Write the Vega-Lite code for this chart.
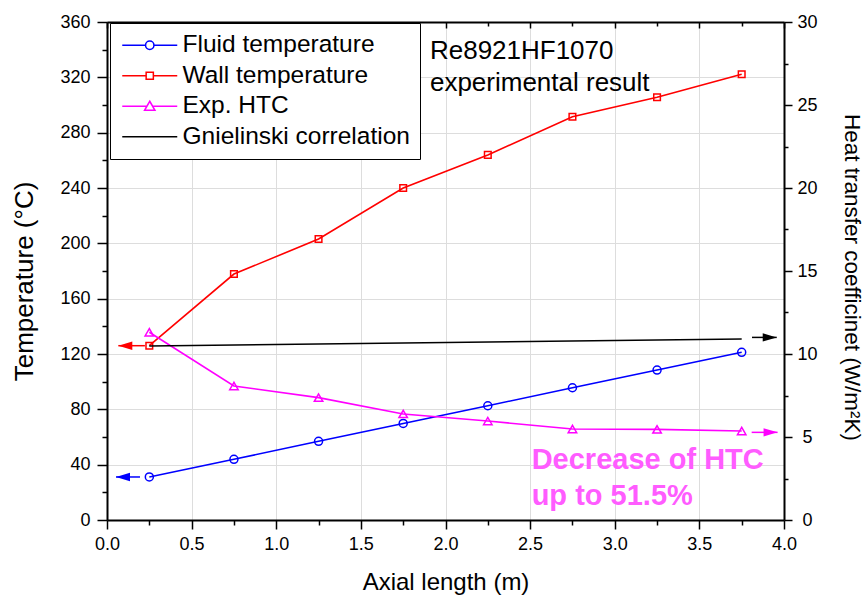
{
  "$schema": "https://vega.github.io/schema/vega-lite/v6.json",
  "width": 677,
  "height": 498,
  "autosize": {"type": "none"},
  "padding": {"left": 107, "top": 22, "right": 82, "bottom": 78},
  "background": "white",
  "config": {
    "view": {"stroke": null},
    "font": "Liberation Sans",
    "axis": {
      "labelFont": "Liberation Sans",
      "titleFont": "Liberation Sans",
      "labelColor": "#000000",
      "titleColor": "#000000",
      "titleFontWeight": "normal",
      "domainColor": "#000000",
      "domainWidth": 2,
      "tickColor": "#000000",
      "tickWidth": 1.5,
      "labelFontSize": 18,
      "titleFontSize": 24,
      "gridColor": "#dddddd",
      "gridWidth": 1,
      "labelFlush": false,
      "labelOverlap": false
    }
  },
  "datasets": {
    "series": [
      {"series": "Fluid temperature", "x": 0.25, "value": 31.1},
      {"series": "Fluid temperature", "x": 0.75, "value": 43.9},
      {"series": "Fluid temperature", "x": 1.25, "value": 56.9},
      {"series": "Fluid temperature", "x": 1.75, "value": 69.8},
      {"series": "Fluid temperature", "x": 2.25, "value": 82.6},
      {"series": "Fluid temperature", "x": 2.75, "value": 95.6},
      {"series": "Fluid temperature", "x": 3.25, "value": 108.4},
      {"series": "Fluid temperature", "x": 3.75, "value": 121.2},
      {"series": "Wall temperature", "x": 0.25, "value": 126},
      {"series": "Wall temperature", "x": 0.75, "value": 177.8},
      {"series": "Wall temperature", "x": 1.25, "value": 203.1},
      {"series": "Wall temperature", "x": 1.75, "value": 240},
      {"series": "Wall temperature", "x": 2.25, "value": 263.9},
      {"series": "Wall temperature", "x": 2.75, "value": 291.5},
      {"series": "Wall temperature", "x": 3.25, "value": 305.6},
      {"series": "Wall temperature", "x": 3.75, "value": 322.2},
      {"series": "Exp. HTC", "x": 0.25, "value": 11.31},
      {"series": "Exp. HTC", "x": 0.75, "value": 8.07},
      {"series": "Exp. HTC", "x": 1.25, "value": 7.37},
      {"series": "Exp. HTC", "x": 1.75, "value": 6.39},
      {"series": "Exp. HTC", "x": 2.25, "value": 5.96},
      {"series": "Exp. HTC", "x": 2.75, "value": 5.48},
      {"series": "Exp. HTC", "x": 3.25, "value": 5.46},
      {"series": "Exp. HTC", "x": 3.75, "value": 5.36},
      {"series": "Gnielinski correlation", "x": 0.25, "value": 10.48},
      {"series": "Gnielinski correlation", "x": 3.75, "value": 10.9}
    ],
    "arrows": [
      {"series": "Fluid temperature", "x": 0.053, "x2": 0.195, "value": 31.1},
      {"series": "Wall temperature", "x": 0.067, "x2": 0.224, "value": 126},
      {"series": "Exp. HTC", "x": 3.962, "x2": 3.809, "value": 5.28},
      {"series": "Gnielinski correlation", "x": 3.957, "x2": 3.811, "value": 11.0}
    ],
    "notes": [
      {"id": "case", "label": "Re8921HF1070\nexperimental result", "x": 1.908, "value": 333},
      {"id": "decrease", "label": "Decrease of HTC\nup to 51.5%", "x": 2.509, "value": 37.2}
    ]
  },
  "layer": [
    {
      "data": {"name": "series"},
      "encoding": {
        "x": {
          "field": "x", "type": "quantitative",
          "scale": {"domain": [0, 4], "nice": false, "zero": false},
          "axis": {
            "orient": "bottom",
            "title": "Axial length (m)",
            "values": [0, 0.25, 0.5, 0.75, 1, 1.25, 1.5, 1.75, 2, 2.25, 2.5, 2.75, 3, 3.25, 3.5, 3.75, 4],
            "labelExpr": "datum.value % 0.5 === 0 ? format(datum.value, '.1f') : ''",
            "tickSize": {"condition": {"test": "datum.value % 0.5 !== 0", "value": 5}, "value": 9},
            "grid": true,
            "gridOpacity": {"condition": {"test": "datum.value % 0.5 !== 0", "value": 0}, "value": 1},
            "labelPadding": 6,
            "titlePadding": 17
          }
        },
        "y": {
          "field": "value", "type": "quantitative",
          "scale": {"domain": [0, 360], "nice": false},
          "axis": {
            "orient": "left",
            "title": "Temperature (°C)",
            "titleFontSize": 26,
            "titleY": 259,
            "values": [0, 20, 40, 60, 80, 100, 120, 140, 160, 180, 200, 220, 240, 260, 280, 300, 320, 340, 360],
            "labelExpr": "datum.value % 40 === 0 ? datum.label : ''",
            "tickSize": {"condition": {"test": "datum.value % 40 !== 0", "value": 5}, "value": 10},
            "grid": true,
            "gridOpacity": {"condition": {"test": "datum.value % 40 !== 0", "value": 0}, "value": 1},
            "labelPadding": 7,
            "titlePadding": 22
          }
        },
        "color": {
          "field": "series", "type": "nominal",
          "scale": {
            "domain": ["Fluid temperature", "Wall temperature", "Exp. HTC", "Gnielinski correlation"],
            "range": ["#0000ff", "#ff0000", "#ff00ff", "#000000"]
          },
          "legend": {
            "title": null,
            "orient": "none",
            "legendX": 3,
            "legendY": 1,
            "direction": "vertical",
            "padding": 10,
            "strokeColor": "#000000",
            "fillColor": "#ffffff",
            "labelFont": "Liberation Sans",
            "labelFontSize": 24.5,
            "labelColor": "#000000",
            "labelLimit": 400,
            "symbolSize": 400,
            "symbolStrokeWidth": 1.5,
            "symbolFillColor": "#ffffff",
            "symbolOffset": 17.5,
            "labelOffset": 20.5,
            "rowPadding": 5.5,
            "encode": {
              "symbols": {
                "enter": {
                  "fill": {"value": "#ffffff"},
                  "fillOpacity": {"value": 0}
                },
                "update": {
                  "shape": {"signal": "datum.value === 'Fluid temperature' ? 'M-2.75,0H-0.42M0.42,0H2.75M0.42,0A0.42,0.42,0,1,1,-0.42,0A0.42,0.42,0,1,1,0.42,0Z' : datum.value === 'Wall temperature' ? 'M-2.75,0H-0.36M0.36,0H2.75M-0.36,-0.36H0.36V0.36H-0.36Z' : datum.value === 'Exp. HTC' ? 'M-2.75,0H-0.3M0.3,0H2.75M0,-0.5L0.52,0.4H-0.52Z' : 'M-2.75,0H2.75'"},
                  "fill": {"value": "#ffffff"},
                  "fillOpacity": {"value": 0},
                  "stroke": {"signal": "scale('color', datum.value)"},
                  "strokeWidth": {"value": 1.5},
                  "opacity": {"value": 1}
                }
              }
            }
          }
        }
      },
      "layer": [
        {
          "transform": [{"filter": "datum.series === 'Fluid temperature' || datum.series === 'Wall temperature'"}],
          "mark": {"type": "line", "strokeWidth": 1.6}
        },
        {
          "transform": [{"filter": "datum.series === 'Fluid temperature'"}],
          "mark": {"type": "point", "shape": "circle", "filled": false, "size": 64, "strokeWidth": 1.5, "opacity": 1}
        },
        {
          "transform": [{"filter": "datum.series === 'Wall temperature'"}],
          "mark": {"type": "point", "shape": "square", "filled": false, "size": 44, "strokeWidth": 1.5, "opacity": 1}
        },
        {
          "data": {"name": "arrows"},
          "transform": [{"filter": "datum.series === 'Fluid temperature' || datum.series === 'Wall temperature'"}],
          "mark": {"type": "rule", "strokeWidth": 1.5},
          "encoding": {"x2": {"field": "x2"}}
        },
        {
          "data": {"name": "arrows"},
          "transform": [{"filter": "datum.series === 'Fluid temperature'"}],
          "mark": {"type": "point", "shape": "M0,0L1,-0.3L1,0.3Z", "filled": true, "size": 784, "opacity": 1, "strokeWidth": 0},
          "encoding": {"color": {"value": "#0000ff"}}
        },
        {
          "data": {"name": "arrows"},
          "transform": [{"filter": "datum.series === 'Wall temperature'"}],
          "mark": {"type": "point", "shape": "M0,0L1,-0.3L1,0.3Z", "filled": true, "size": 784, "opacity": 1, "strokeWidth": 0},
          "encoding": {"color": {"value": "#ff0000"}}
        },
        {
          "data": {"name": "notes"},
          "transform": [{"filter": "datum.id === 'case'"}],
          "mark": {"type": "text", "lineBreak": "\n", "lineHeight": 32, "align": "left", "baseline": "alphabetic", "fontSize": 26, "font": "Liberation Sans"},
          "encoding": {
            "text": {"field": "label", "type": "nominal"},
            "color": {"value": "#000000"}
          }
        },
        {
          "data": {"name": "notes"},
          "transform": [{"filter": "datum.id === 'decrease'"}],
          "mark": {"type": "text", "lineBreak": "\n", "lineHeight": 36.5, "align": "left", "baseline": "alphabetic", "fontSize": 29, "fontWeight": "bold", "font": "Liberation Sans"},
          "encoding": {
            "text": {"field": "label", "type": "nominal"},
            "color": {"value": "#ff5cff"}
          }
        }
      ]
    },
    {
      "data": {"name": "series"},
      "encoding": {
        "x": {
          "field": "x", "type": "quantitative",
          "scale": {"domain": [0, 4], "nice": false, "zero": false},
          "axis": {
            "orient": "top",
            "title": null,
            "labels": false,
            "grid": false,
            "values": [0, 0.25, 0.5, 0.75, 1, 1.25, 1.5, 1.75, 2, 2.25, 2.5, 2.75, 3, 3.25, 3.5, 3.75, 4],
            "tickSize": {"condition": {"test": "datum.value % 0.5 !== 0", "value": -4}, "value": -6}
          }
        },
        "y": {
          "field": "value", "type": "quantitative",
          "scale": {"domain": [0, 30], "nice": false},
          "axis": {
            "orient": "right",
            "title": "Heat transfer coefficinet (W/m²K)",
            "titleFontSize": 22.5,
            "titleY": 255,
            "values": [0, 2.5, 5, 7.5, 10, 12.5, 15, 17.5, 20, 22.5, 25, 27.5, 30],
            "labelExpr": "datum.value % 5 === 0 ? format(datum.value, 'd') : ''",
            "tickSize": {"condition": {"test": "datum.value % 5 !== 0", "value": 4}, "value": 8},
            "grid": false,
            "labelAlign": "center",
            "labelPadding": 15,
            "titlePadding": 22
          }
        },
        "color": {"field": "series", "type": "nominal"}
      },
      "layer": [
        {
          "transform": [{"filter": "datum.series === 'Exp. HTC' || datum.series === 'Gnielinski correlation'"}],
          "mark": {"type": "line", "strokeWidth": 1.6}
        },
        {
          "transform": [{"filter": "datum.series === 'Exp. HTC'"}],
          "mark": {"type": "point", "shape": "triangle-up", "filled": false, "size": 72, "strokeWidth": 1.5, "opacity": 1}
        },
        {
          "data": {"name": "arrows"},
          "transform": [{"filter": "datum.series === 'Exp. HTC' || datum.series === 'Gnielinski correlation'"}],
          "mark": {"type": "rule", "strokeWidth": 1.5},
          "encoding": {"x2": {"field": "x2"}}
        },
        {
          "data": {"name": "arrows"},
          "transform": [{"filter": "datum.series === 'Exp. HTC'"}],
          "mark": {"type": "point", "shape": "M0,0L-1,-0.3L-1,0.3Z", "filled": true, "size": 784, "opacity": 1, "strokeWidth": 0},
          "encoding": {"color": {"value": "#ff00ff"}}
        },
        {
          "data": {"name": "arrows"},
          "transform": [{"filter": "datum.series === 'Gnielinski correlation'"}],
          "mark": {"type": "point", "shape": "M0,0L-1,-0.3L-1,0.3Z", "filled": true, "size": 784, "opacity": 1, "strokeWidth": 0},
          "encoding": {"color": {"value": "#000000"}}
        }
      ]
    }
  ],
  "resolve": {"scale": {"x": "independent", "y": "independent"}}
}
